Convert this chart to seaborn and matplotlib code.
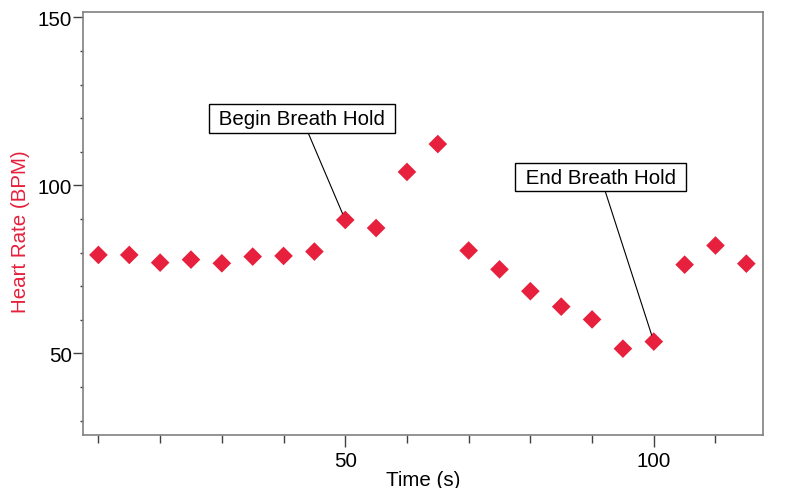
import numpy as np
import pandas as pd
import seaborn as sns
import matplotlib.pyplot as plt
from matplotlib.ticker import MultipleLocator

# 심박수 데이터 (5초 간격)
time_s = [10, 15, 20, 25, 30, 35, 40, 45, 50, 55, 60, 65,
          70, 75, 80, 85, 90, 95, 100, 105, 110, 115]
heart_rate = [79.3, 79.3, 77.0, 77.9, 76.8, 78.8, 79.0, 80.3, 89.7, 87.3, 104.0, 112.3,
              80.6, 75.0, 68.5, 63.9, 60.1, 51.4, 53.5, 76.4, 82.1, 76.7]

notes = ["Begin Breath Hold", "End Breath Hold"]
note_at = [(50, 89.7), (100, 53.5)]
note_text_at = [(43.0, 119.9), (91.4, 102.4)]

df = pd.DataFrame({"Time (s)": time_s, "Heart Rate (BPM)": heart_rate})

sns.set_style("ticks")
plt.rcParams['font.family'] = ['Liberation Sans', 'DejaVu Sans']
plt.rcParams['text.color'] = 'black'
plt.rcParams['xtick.color'] = 'black'
plt.rcParams['ytick.color'] = 'black'

red = "#E6203D"
fs = 14.8
fig = plt.figure(figsize=(7.89, 4.89), dpi=100)
ax = fig.add_axes([83 / 789, 53 / 489, 680 / 789, 423 / 489])

sns.scatterplot(data=df, x="Time (s)", y="Heart Rate (BPM)", marker="D",
                color=red, s=90, edgecolor="none", ax=ax, zorder=3)

ax.set_xlim(7.5, 117.7)
ax.set_ylim(25.7, 151.6)
ax.xaxis.set_major_locator(MultipleLocator(50))
ax.xaxis.set_minor_locator(MultipleLocator(10))
ax.yaxis.set_major_locator(MultipleLocator(50))
ax.yaxis.set_minor_locator(MultipleLocator(10))

for sp in ax.spines.values():
    sp.set_color("#808080")
    sp.set_linewidth(1.2)

ax.tick_params(axis="x", which="major", length=8.5, width=1, color="#404040",
               labelsize=fs, labelcolor="black", pad=3)
ax.tick_params(axis="x", which="minor", length=5.5, width=1, color="#404040")
ax.tick_params(axis="y", which="major", length=7, width=1, color="#404040",
               labelsize=fs, labelcolor="black", pad=1)
ax.tick_params(axis="y", which="minor", length=2.5, width=1, color="#404040")

ax.set_xlabel("Time (s)", fontsize=fs, color="black", labelpad=0)
ax.set_ylabel("Heart Rate (BPM)", fontsize=fs, color=red)
ax.yaxis.set_label_coords(-0.078, 0.482)

for txt, xy, xytext in zip(notes, note_at, note_text_at):
    ax.annotate(" " + txt + " ", xy=xy, xytext=xytext, fontsize=fs, ha="center", va="center",
                color="black",
                bbox=dict(boxstyle="square,pad=0.22", fc="white", ec="black", lw=1),
                arrowprops=dict(arrowstyle="-", color="black", lw=0.8, shrinkA=0, shrinkB=5),
                zorder=4)

fig.savefig("out.png", dpi=100)
